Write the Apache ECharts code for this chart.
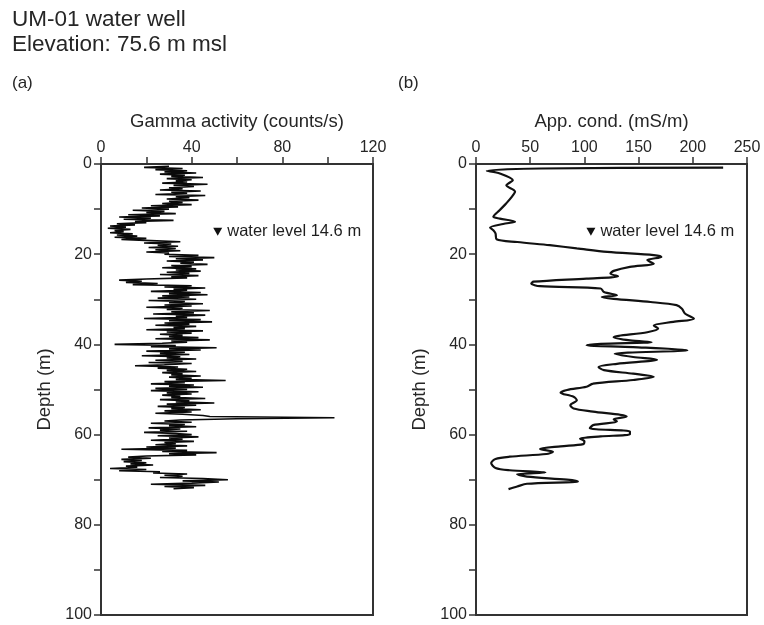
<!DOCTYPE html>
<html>
<head>
<meta charset="utf-8">
<script src="https://cdn.jsdelivr.net/npm/echarts@6/dist/echarts.min.js"></script>
<style>html,body{margin:0;padding:0;background:#fff;}#c{width:764px;height:625px;}</style>
</head>
<body>
<div id="c"></div>
<script>
// Gamma log: depth (m) and gamma activity (counts/s)
const gammaDepth = [0.5,0.75,
1.0,1.25,1.5,1.75, 2.0,2.25,2.5,2.75, 3.0,3.25,3.5,3.75, 4.0,4.25,4.5,4.75, 5.0,5.25,5.5,5.75,
6.0,6.25,6.5,6.75, 7.0,7.25,7.5,7.75, 8.0,8.25,8.5,8.75, 9.0,9.25,9.5,9.75, 10.0,10.25,10.5,10.75,
11.0,11.25,11.5,11.75, 12.0,12.25,12.5,12.75, 13.0,13.25,13.5,13.75, 14.0,14.25,14.5,14.75, 15.0,15.25,15.5,15.75,
16.0,16.25,16.5,16.75, 17.0,17.25,17.5,17.75, 18.0,18.25,18.5,18.75, 19.0,19.25,19.5,19.75, 20.0,20.25,20.5,20.75,
21.0,21.25,21.5,21.75, 22.0,22.25,22.5,22.75, 23.0,23.25,23.5,23.75, 24.0,24.25,24.5,24.75, 25.0,25.25,25.5,25.75,
26.0,26.25,26.5,26.75, 27.0,27.25,27.5,27.75, 28.0,28.25,28.5,28.75, 29.0,29.25,29.5,29.75, 30.0,30.25,30.5,30.75,
31.0,31.25,31.5,31.75, 32.0,32.25,32.5,32.75, 33.0,33.25,33.5,33.75, 34.0,34.25,34.5,34.75, 35.0,35.25,35.5,35.75,
36.0,36.25,36.5,36.75, 37.0,37.25,37.5,37.75, 38.0,38.25,38.5,38.75, 39.0,39.25,39.5,39.75, 40.0,40.25,40.5,40.75,
41.0,41.25,41.5,41.75, 42.0,42.25,42.5,42.75, 43.0,43.25,43.5,43.75, 44.0,44.25,44.5,44.75, 45.0,45.25,45.5,45.75,
46.0,46.25,46.5,46.75, 47.0,47.25,47.5,47.75, 48.0,48.25,48.5,48.75, 49.0,49.25,49.5,49.75, 50.0,50.25,50.5,50.75,
51.0,51.25,51.5,51.75, 52.0,52.25,52.5,52.75, 53.0,53.25,53.5,53.75, 54.0,54.25,54.5,54.75, 55.0,55.25,55.5,55.75,
56.0,56.25,56.5,56.75, 57.0,57.25,57.5,57.75, 58.0,58.25,58.5,58.75, 59.0,59.25,59.5,59.75, 60.0,60.25,60.5,60.75,
61.0,61.25,61.5,61.75, 62.0,62.25,62.5,62.75, 63.0,63.25,63.5,63.75, 64.0,64.25,64.5,64.75, 65.0,65.25,65.5,65.75,
66.0,66.25,66.5,66.75, 67.0,67.25,67.5,67.75, 68.0,68.25,68.5,68.75, 69.0,69.25,69.5,69.75, 70.0,70.25,70.5,70.75,
71.0,71.25,71.5,71.75, 72.0];
const gammaCps = [30,19,
36,24,38,28, 42,26,37,31, 45,29,40,33, 38,27,47,32, 41,30,36,26,
44,31,38,24, 46,33,39,29, 43,30,36,27, 40,22,34,18, 30,14,28,20,
33,12,26,8, 22,10,32,15, 20,7,15,4, 11,3,13,6, 10,4,14,7,
16,6,20,9, 22,35,19,31, 25,34,21,33, 24,35,20,30, 28,43,30,50,
33,45,29,41, 35,47,31,40, 27,42,33,44, 29,39,26,43, 31,38,20,8,
18,11,25,14, 40,28,46,32, 38,22,44,30, 47,27,39,25, 42,21,37,30,
45,28,40,20, 36,29,48,31, 41,23,46,33, 38,19,44,30, 49,28,39,24,
42,32,37,20, 45,29,40,26, 36,30,43,24, 48,31,38,27, 6,33,22,51,
30,44,20,37, 26,39,18,35, 29,42,24,36, 21,40,28,15, 34,25,38,29,
42,27,36,31, 44,30,40,33, 55,28,37,22, 41,30,45,24, 38,22,43,29,
40,27,35,31, 46,26,39,33, 50,29,42,25, 37,31,44,28, 40,24,36,45,
48,103,60,35, 28,40,22,37, 30,42,21,35, 26,38,19,33, 40,25,43,30,
36,22,41,28, 33,24,38,20, 33,9,38,27, 51,30,42,20, 12,22,9,18,
10,20,13,23, 11,16,4,20, 8,26,23,38, 28,36,26,45, 56,36,52,40,
22,46,28,41, 32];

// Apparent conductivity log: depth (m) and conductivity (mS/m)
const condDepth = [0.8,1.0,1.5,2.1,3.6,4.3,4.7,6.1,7.3,8.7,10.2,11.7,12.1,12.8,13.3,14.1,14.7,15.4,16.7,17.3,
18.0,18.7,19.5,20.2,20.6,21.3,22.1,22.8,23.7,24.3,24.9,25.4,26.1,26.5,27.1,27.6,28.4,29.1,29.5,29.9,
30.6,31.3,32.1,33.2,34.3,35.0,35.8,36.5,37.3,38.4,39.1,39.5,39.9,40.2,40.6,41.3,42.1,42.8,43.4,44.3,
45.0,45.7,46.5,47.2,47.9,48.7,49.4,50.1,50.7,51.6,52.4,53.5,54.2,54.9,56.0,56.6,57.1,57.9,58.6,59.3,
59.9,60.4,60.9,61.5,62.1,62.6,63.2,63.8,64.3,64.9,65.4,66.3,67.4,67.9,68.4,68.8,69.3,70.0,70.4,70.9,
71.5,72.1];
const condMSm = [228,60,10,22,34,30,28,36,33,28,22,16,22,36,25,13,16,18,19,38,
68,93,121,164,171,158,164,142,127,124,131,102,53,51,59,115,118,130,116,127,
161,185,190,193,201,182,164,168,158,127,142,162,115,102,145,195,128,145,167,130,
113,118,145,164,145,108,102,84,78,90,93,87,90,108,139,127,130,108,105,142,
142,115,96,100,99,78,59,71,65,31,18,14,18,31,64,38,47,84,94,47,
38,30];

const gammaTickLabels = [0, 40, 80, 120];
const condTickLabels = [0, 50, 100, 150, 200, 250];
const depthTickLabels = [0, 20, 40, 60, 80, 100];
const waterLevelText = 'water level 14.6 m';
const waterMarkGamma = [51.5, 15];
const waterMarkCond = [106, 15];

const FONT = '"Liberation Sans", Arial, Helvetica, sans-serif';
const TXT = '#262626';
const AX = '#333';

function xAx(idx, max, interval, name, labels) {
  return {
    gridIndex: idx, type: 'value', position: 'top', min: 0, max: max, interval: interval,
    name: name, nameLocation: 'middle', nameGap: 33,
    nameTextStyle: {fontSize: 18.5, color: TXT, fontFamily: FONT},
    axisLine: {show: true, onZero: false, lineStyle: {color: AX, width: 2}},
    axisTick: {show: true, length: 7, lineStyle: {color: AX, width: 1.5}},
    axisLabel: {fontSize: 16, color: TXT, fontFamily: FONT, margin: 8,
      formatter: v => labels.indexOf(v) >= 0 ? String(v) : ''},
    splitLine: {show: false}
  };
}
function yAx(idx) {
  return {
    gridIndex: idx, type: 'value', inverse: true, min: 0, max: 100, interval: 10,
    name: 'Depth (m)', nameLocation: 'middle', nameGap: 47, nameRotate: 90,
    nameTextStyle: {fontSize: 18.5, color: TXT, fontFamily: FONT},
    axisLine: {show: true, onZero: false, lineStyle: {color: AX, width: 2}},
    axisTick: {show: true, length: 7, lineStyle: {color: AX, width: 1.5}},
    axisLabel: {fontSize: 16, color: TXT, fontFamily: FONT, margin: 9,
      formatter: v => depthTickLabels.indexOf(v) >= 0 ? String(v) : ''},
    splitLine: {show: false}
  };
}
function waterSeries(idx, pt) {
  return {
    type: 'scatter', xAxisIndex: idx, yAxisIndex: idx, data: [pt],
    symbol: 'triangle', symbolRotate: 180, symbolSize: [9, 8],
    itemStyle: {color: '#111', opacity: 1}, silent: true,
    label: {show: true, position: 'right', distance: 5, formatter: waterLevelText,
      fontSize: 16.5, color: '#1e1e1e', opacity: 1, fontFamily: FONT}
  };
}

const chart = echarts.init(document.getElementById('c'), null, {renderer: 'canvas'});
chart.setOption({
  animation: false,
  backgroundColor: '#fff',
  textStyle: {fontFamily: FONT},
  graphic: [
    {type: 'text', left: 12, top: 8, style: {text: 'UM-01 water well', font: '22.5px ' + FONT, fill: TXT}},
    {type: 'text', left: 12, top: 33, style: {text: 'Elevation: 75.6 m msl', font: '22.5px ' + FONT, fill: TXT}},
    {type: 'text', left: 12, top: 75, style: {text: '(a)', font: '17px ' + FONT, fill: TXT}},
    {type: 'text', left: 398, top: 75, style: {text: '(b)', font: '17px ' + FONT, fill: TXT}}
  ],
  grid: [
    {left: 101, top: 164, width: 272, height: 451, show: true, borderColor: AX, borderWidth: 2, backgroundColor: 'transparent'},
    {left: 476, top: 164, width: 271, height: 451, show: true, borderColor: AX, borderWidth: 2, backgroundColor: 'transparent'}
  ],
  xAxis: [
    xAx(0, 120, 20, 'Gamma activity (counts/s)', gammaTickLabels),
    xAx(1, 250, 50, 'App. cond. (mS/m)', condTickLabels)
  ],
  yAxis: [yAx(0), yAx(1)],
  series: [
    {type: 'line', xAxisIndex: 0, yAxisIndex: 0, showSymbol: false, symbol: 'none',
      data: gammaDepth.map((d, i) => [gammaCps[i], d]),
      lineStyle: {color: '#0a0a0a', width: 1.6}},
    {type: 'line', xAxisIndex: 1, yAxisIndex: 1, showSymbol: false, symbol: 'none', smooth: 0.3,
      data: condDepth.map((d, i) => [condMSm[i], d]),
      lineStyle: {color: '#111', width: 2.2}},
    waterSeries(0, waterMarkGamma),
    waterSeries(1, waterMarkCond)
  ]
});
</script>
</body>
</html>
